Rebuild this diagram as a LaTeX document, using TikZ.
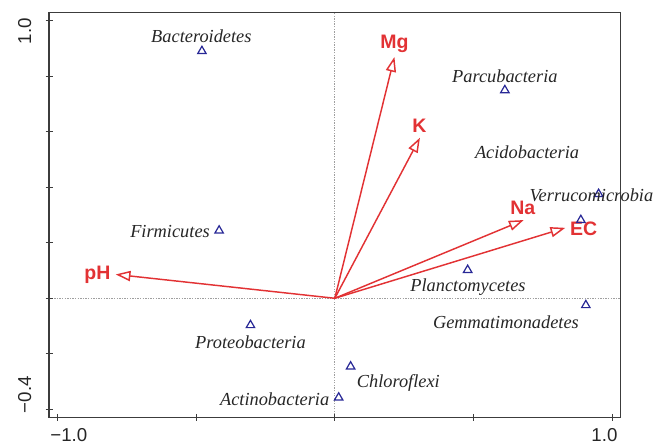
\documentclass[tikz,border=0pt]{standalone}
\usepackage{fontspec}
\setmainfont{Liberation Serif}
\setsansfont{Liberation Sans}
\usetikzlibrary{arrows.meta,shapes.geometric}
\definecolor{envred}{RGB}{226,50,52}
\definecolor{spblue}{RGB}{40,40,150}
\definecolor{framegray}{RGB}{60,60,60}
\tikzset{
  envarrow/.style={draw=envred, line width=0.9pt,
    -{Triangle[open, fill=white, length=0.32cm, width=0.22cm, line width=0.9pt]}},
  envlabel/.style={text=envred, font=\sffamily\bfseries\fontsize{12}{14}\selectfont, inner sep=0pt},
  sptri/.style={regular polygon, regular polygon sides=3, draw=spblue, line width=0.75pt,
    minimum size=0.21cm, inner sep=0pt},
  splabel/.style={text=black!85, font=\itshape\fontsize{11.3}{13}\selectfont, inner sep=0pt},
  ticklabel/.style={text=black!85, font=\sffamily\fontsize{11.5}{13}\selectfont, inner sep=0pt},
  axisline/.style={draw=framegray, line width=0.9pt},
  tickmark/.style={draw=framegray, line width=0.6pt},
  zeroline/.style={draw=gray!75, line width=0.4pt, dash pattern=on 0.8pt off 0.8pt}
}
\begin{document}
\begin{tikzpicture}[x=6cm, y=6cm]
\useasboundingbox (-1.207,-0.525) rectangle (1.194,1.0753);
% zero lines
\coordinate (fl) at (-1.030,0);
\coordinate (fr) at (1.030,0);
\coordinate (fb) at (0,-0.429);
\coordinate (ft) at (0,1.031);
\draw[zeroline] (fl) -- (fr);
\draw[zeroline] (fb) -- (ft);
% environmental arrows
\coordinate (o) at (0,0);
\coordinate (pHtip) at (-0.790,0.086);
\coordinate (Mgtip) at (0.215,0.870);
\coordinate (Ktip) at (0.307,0.579);
\coordinate (Natip) at (0.681,0.282);
\coordinate (ECtip) at (0.831,0.254);
\draw[envarrow] (o) -- (pHtip);
\draw[envarrow] (o) -- (Mgtip);
\draw[envarrow] (o) -- (Ktip);
\draw[envarrow] (o) -- (Natip);
\draw[envarrow] (o) -- (ECtip);
\node[envlabel] (pH) at (-0.856,0.086) {pH};
\node[envlabel] (Mg) at (0.215,0.918) {Mg};
\node[envlabel] (K) at (0.305,0.621) {K};
\node[envlabel] (Na) at (0.678,0.327) {Na};
\node[envlabel] (EC) at (0.897,0.252) {EC};
% species triangles
\node[sptri] (tBac) at (-0.479,0.891) {};
\node[sptri] (tPar) at (0.613,0.750) {};
\node[sptri] (tVer) at (0.951,0.376) {};
\node[sptri] (tAci) at (0.887,0.282) {};
\node[sptri] (tFir) at (-0.417,0.244) {};
\node[sptri] (tPla) at (0.479,0.102) {};
\node[sptri] (tGem) at (0.905,-0.025) {};
\node[sptri] (tPro) at (-0.304,-0.097) {};
\node[sptri] (tChl) at (0.057,-0.246) {};
\node[sptri] (tAct) at (0.014,-0.358) {};
% species labels
\node[splabel] (lBac) at (-0.481,0.945) {Bacteroidetes};
\node[splabel] (lPar) at (0.613,0.800) {Parcubacteria};
\node[splabel] (lAci) at (0.693,0.528) {Acidobacteria};
\node[splabel] (lVer) at (0.925,0.372) {Verrucomicrobia};
\node[splabel] (lFir) at (-0.594,0.240) {Firmicutes};
\node[splabel] (lPla) at (0.480,0.040) {Planctomycetes};
\node[splabel] (lGem) at (0.617,-0.088) {Gemmatimonadetes};
\node[splabel] (lPro) at (-0.304,-0.158) {Proteobacteria};
\node[splabel] (lChl) at (0.229,-0.306) {Chloroflexi};
\node[splabel] (lAct) at (-0.217,-0.363) {Actinobacteria};
% frame
\coordinate (bl) at (-1.030,-0.429);
\coordinate (tr) at (1.030,1.031);
\draw[axisline] (bl) rectangle (tr);
% ticks
\foreach \xv in {-1,-0.5,0,0.5,1}
  \draw[tickmark] (\xv,-0.4165) -- (\xv,-0.4415);
\foreach \yv in {-0.4,-0.2,0,0.2,0.4,0.6,0.8,1.0}
  \draw[tickmark] (-1.0425,\yv) -- (-1.0175,\yv);
% tick labels
\node[ticklabel] (xm) at (-0.959,-0.492) {−1.0};
\node[ticklabel] (xp) at (0.972,-0.492) {1.0};
\node[ticklabel, rotate=90] (yp) at (-1.118,0.963) {1.0};
\node[ticklabel, rotate=90] (ym) at (-1.118,-0.348) {−0.4};
\end{tikzpicture}
\end{document}
